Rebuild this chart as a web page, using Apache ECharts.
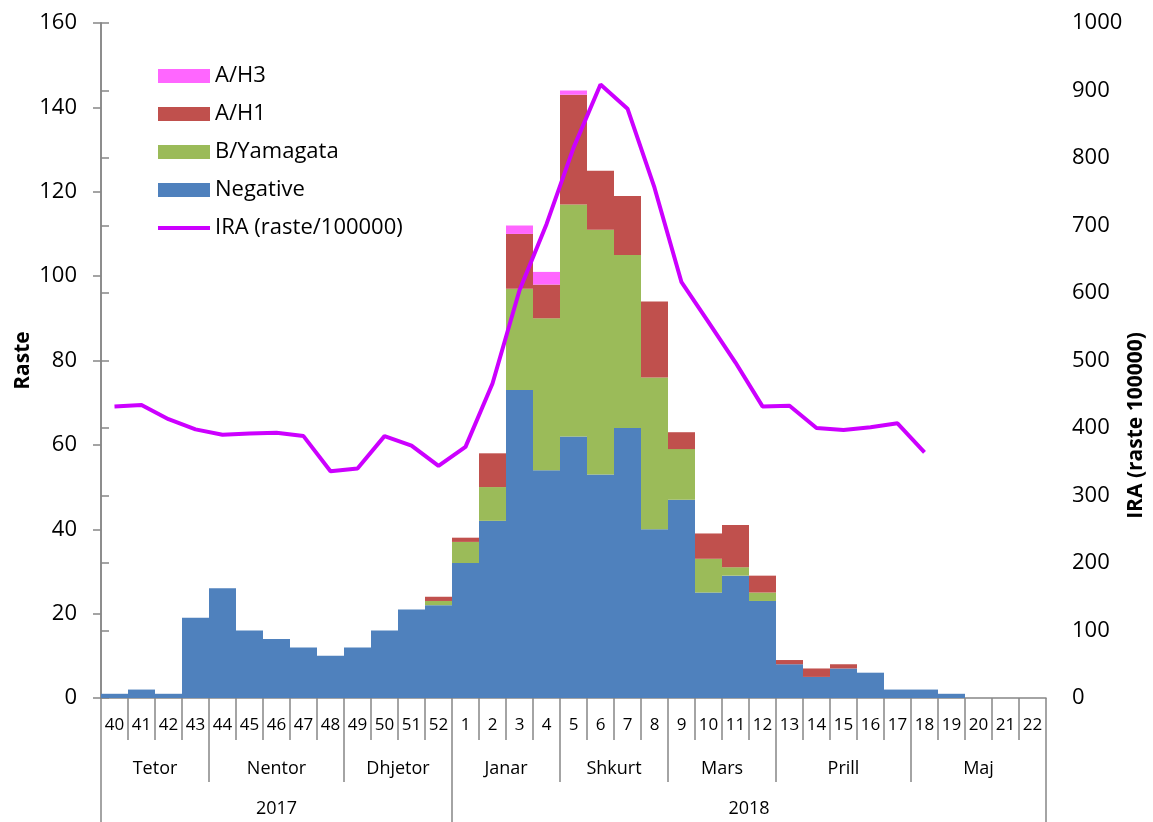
<!DOCTYPE html>
<html>
<head>
<meta charset="utf-8">
<script src="https://cdn.jsdelivr.net/npm/echarts@6/dist/echarts.min.js"></script>
<style>
html,body{margin:0;padding:0;background:#fff;}
#c{width:1153px;height:822px;}
</style>
</head>
<body>
<div id="c"></div>
<script>
const weeks = ['40','41','42','43','44','45','46','47','48','49','50','51','52',
  '1','2','3','4','5','6','7','8','9','10','11','12','13','14','15','16','17','18','19','20','21','22'];
const months = ['Tetor','Nentor','Dhjetor','Janar','Shkurt','Mars','Prill','Maj'];
const monthWeekCounts = [4,5,4,4,4,4,5,5];
const years = ['2017','2018'];
const yearWeekCounts = [13,22];

const negative = [1,2,1,19,26,16,14,12,10,12,16,21,22,
  32,42,73,54,62,53,64,40,47,25,29,23,8,5,7,6,2,2,1,0,0,0];
const bYamagata = [0,0,0,0,0,0,0,0,0,0,0,0,1,
  5,8,24,36,55,58,41,36,12,8,2,2,0,0,0,0,0,0,0,0,0,0];
const aH1 = [0,0,0,0,0,0,0,0,0,0,0,0,1,
  1,8,13,8,26,14,14,18,4,6,10,4,1,2,1,0,0,0,0,0,0,0];
const aH3 = [0,0,0,0,0,0,0,0,0,0,0,0,0,
  0,0,2,3,1,0,0,0,0,0,0,0,0,0,0,0,0,0,0,0,0,0];
const ira = [432,434,413,398,390,392,393,388,336,340,388,374,344,
  372,466,604,702,815,909,873,756,616,557,497,432,433,400,397,401,407,364,null,null,null,null];

const leftTicks = {min:0, max:160, interval:20};
const rightTicks = {min:0, max:1000, interval:100};

function bounds(counts){ const b=[0]; counts.forEach(c=>b.push(b[b.length-1]+c)); return b; }
const monthBounds = bounds(monthWeekCounts);
const yearBounds = bounds(yearWeekCounts);
const monthCenters = months.map((m,i)=>(monthBounds[i]+monthBounds[i+1])/2);
const yearCenters = years.map((y,i)=>(yearBounds[i]+yearBounds[i+1])/2);

const FONT = 'Open Sans';
const AXIS = '#868686';
const IRA_COLOR = '#CC00FF';

const chart = echarts.init(document.getElementById('c'), null, {renderer:'canvas'});
const nameOf = (centers, names) => v => { for (let i=0;i<centers.length;i++){ if (Math.abs(centers[i]-v)<1e-6) return names[i]; } return ''; };

chart.setOption({
  animation:false,
  backgroundColor:'#fff',
  textStyle:{fontFamily:FONT, color:'#000'},
  grid:{left:101, right:107, top:23, bottom:124, containLabel:false, outerBoundsMode:'none'},
  legend:{
    orient:'vertical', left:158, top:63, padding:0,
    itemWidth:52, itemHeight:14, itemGap:12,
    textStyle:{fontFamily:FONT, fontSize:22, color:'#000', lineHeight:26},
    data:[
      {name:'A/H3', icon:'rect'},
      {name:'A/H1', icon:'rect'},
      {name:'B/Yamagata', icon:'rect'},
      {name:'Negative', icon:'rect'},
      {name:'IRA (raste/100000)', icon:'path://M0,0L52,0L52,4L0,4Z', itemStyle:{color:IRA_COLOR}}
    ]
  },
  xAxis:[
    {type:'category', data:weeks, boundaryGap:true, position:'bottom',
     axisLine:{show:true, lineStyle:{color:AXIS, width:1.5}},
     axisTick:{show:true, interval:0, length:42, lineStyle:{color:AXIS, width:1.5}},
     axisLabel:{interval:0, fontFamily:FONT, fontSize:17, color:'#000', margin:19, hideOverlap:false},
     splitLine:{show:false}},
    {type:'value', min:0, max:weeks.length, position:'bottom', offset:42,
     axisLine:{show:false},
     axisTick:{show:false},
     axisLabel:{customValues:monthCenters, formatter:nameOf(monthCenters, months), fontFamily:FONT, fontSize:18, color:'#000', margin:20},
     splitLine:{show:false}},
    {type:'value', min:0, max:weeks.length, position:'bottom', offset:84,
     axisLine:{show:false},
     axisTick:{show:true, customValues:yearBounds, length:40, lineStyle:{color:AXIS, width:1.5}},
     axisLabel:{customValues:yearCenters, formatter:nameOf(yearCenters, years), fontFamily:FONT, fontSize:18, color:'#000', margin:18},
     splitLine:{show:false}},
    {type:'category', data:weeks, boundaryGap:true, position:'bottom', offset:42,
     axisLine:{show:false},
     axisTick:{show:true, length:42, interval:(i)=>monthBounds.indexOf(i)>=0, lineStyle:{color:AXIS, width:1.5}},
     axisLabel:{show:false},
     splitLine:{show:false}}
  ],
  yAxis:[
    {type:'value', position:'left', min:leftTicks.min, max:leftTicks.max, interval:leftTicks.interval,
     name:'Raste', nameLocation:'middle', nameGap:67, nameRotate:90, nameMoveOverlap:false,
     nameTextStyle:{fontFamily:FONT, fontSize:21, fontWeight:'bold', color:'#000'},
     axisLine:{show:true, lineStyle:{color:AXIS, width:1.5}},
     axisTick:{show:true, length:8, lineStyle:{color:AXIS, width:1.5}},
     axisLabel:{fontFamily:FONT, fontSize:22, color:'#000', margin:24},
     splitLine:{show:false}},
    {type:'value', position:'right', min:rightTicks.min, max:rightTicks.max, interval:rightTicks.interval,
     name:'IRA (raste 100000)', nameLocation:'middle', nameGap:80, nameRotate:90, nameMoveOverlap:false,
     nameTextStyle:{fontFamily:FONT, fontSize:21, fontWeight:'bold', color:'#000', padding:[0,130,0,0]},
     axisLine:{show:true, lineStyle:{color:AXIS, width:1.5}},
     axisTick:{show:true, length:8, lineStyle:{color:AXIS, width:1.5}},
     axisLabel:{fontFamily:FONT, fontSize:22, color:'#000', margin:26, formatter:(v)=>String(v)},
     splitLine:{show:false}}
  ],
  series:[
    {name:'Negative', type:'bar', stack:'s', data:negative, barCategoryGap:'0%', itemStyle:{color:'#4F81BD'}},
    {name:'B/Yamagata', type:'bar', stack:'s', data:bYamagata, barCategoryGap:'0%', itemStyle:{color:'#9BBB59'}},
    {name:'A/H1', type:'bar', stack:'s', data:aH1, barCategoryGap:'0%', itemStyle:{color:'#C0504D'}},
    {name:'A/H3', type:'bar', stack:'s', data:aH3, barCategoryGap:'0%', itemStyle:{color:'#FF66FF'}},
    {name:'IRA (raste/100000)', type:'line', yAxisIndex:1, data:ira, symbol:'none', z:5,
     lineStyle:{color:IRA_COLOR, width:4}, itemStyle:{color:IRA_COLOR}}
  ]
});
</script>
</body>
</html>
